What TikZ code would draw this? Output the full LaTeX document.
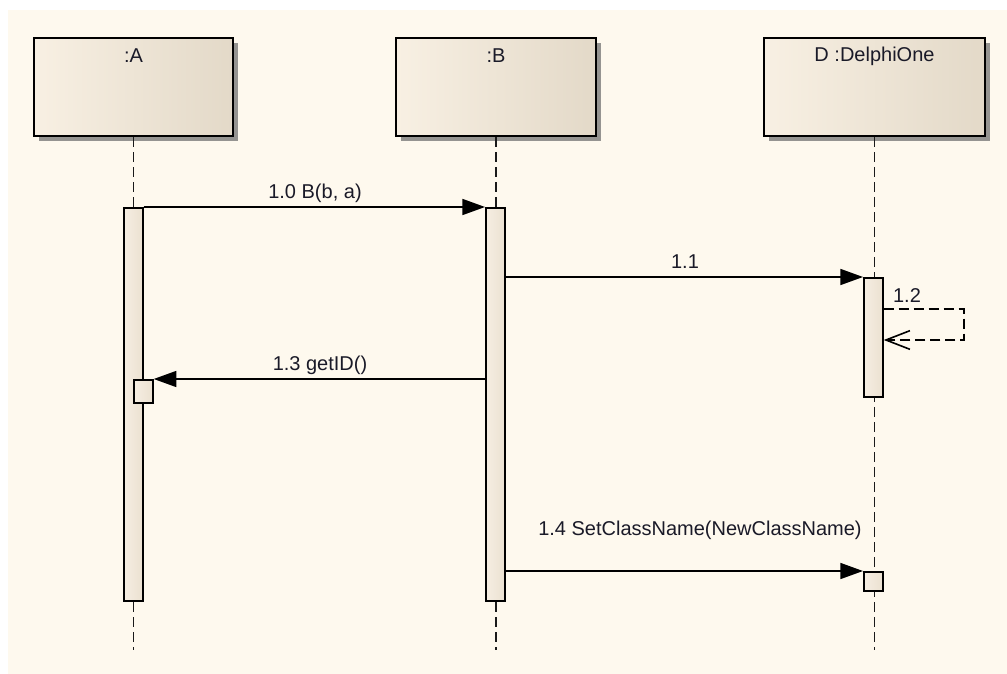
\documentclass[tikz,border=0pt]{standalone}
\usepackage{fontspec}
\setmainfont{Liberation Sans}
\usetikzlibrary{arrows.meta,shadows}
\definecolor{bgc}{HTML}{FEF9EE}
\definecolor{boxL}{HTML}{F8F0E3}
\definecolor{boxR}{HTML}{E3D9C8}
\definecolor{barL}{HTML}{F6EEE2}
\definecolor{barR}{HTML}{EBE1D1}
\definecolor{txt}{HTML}{1A1A28}
\definecolor{lifec}{HTML}{1A1A1A}
\begin{document}
\begin{tikzpicture}[x=0.75pt,y=-0.75pt,
  lbl/.style={font=\fontsize{15pt}{18pt}\selectfont, text=txt, inner sep=0pt},
  obj/.style={draw=black, line width=1.5pt, left color=boxL, right color=boxR, minimum height=73.5pt, anchor=north west, inner sep=0pt,
    drop shadow={shadow xshift=3.5pt, shadow yshift=-3.5pt, fill=black!55, opacity=0.75}},
  bar/.style={draw=black, line width=1.3pt, left color=barL, right color=barR, minimum width=14.25pt, anchor=north west, inner sep=0pt},
  life/.style={draw=lifec, line width=1.2pt, dash pattern=on 7.5pt off 3.75pt},
  msg/.style={draw=black, line width=1.2pt, -{Triangle[length=17pt,width=12pt]}},
  ret/.style={draw=black, line width=1.2pt, dash pattern=on 7.5pt off 3.75pt, -{Straight Barb[length=18pt,width=14pt]}}
]
\useasboundingbox (0,0) rectangle (1007,674);
\fill[white] (0,0) rectangle (1007,674);
\fill[bgc] (8,10) rectangle (1007,674);

% object boxes
\node[obj, minimum width=149.25pt] (A) at (33,37) {};
\node[obj, minimum width=150pt] (B) at (395,37) {};
\node[obj, minimum width=165.75pt] (D) at (763,37) {};
\node[lbl] (labA) at ([yshift=-14.25pt]A.north) {:A};
\node[lbl] (labB) at ([yshift=-14.25pt]B.north) {:B};
\node[lbl] (labD) at ([yshift=-14.25pt]D.north) {D :DelphiOne};

% lifelines
\coordinate (bot) at (0,650);
\draw[life] (A.south) -- (A.south |- bot);
\draw[life] (B.south) -- (B.south |- bot);
\draw[life] (D.south) -- (D.south |- bot);

% activations
\node[bar, minimum height=294.75pt] (aA) at (123,207) {};
\node[bar, minimum height=294.75pt] (aB) at (485,207) {};
\node[bar, minimum height=89.25pt] (aD) at (863,277) {};
\node[bar, minimum height=17.25pt] (sA) at (133,379) {};
\node[bar, minimum height=14.25pt] (sD) at (863,571) {};

% messages
\draw[msg] (aA.north east) -- (aB.north west);
\draw[msg] (aB.east |- aD.north) -- (aD.north west);
\coordinate (r1) at (964,309);
\coordinate (r2) at (964,340);
\draw[ret] (aD.east |- r1) -- (r1) -- (r2) -- (aD.east |- r2);
\draw[msg] (aB.west |- sA.north) -- (sA.north east);
\draw[msg] (aB.east |- sD.north) -- (sD.north west);

% message labels
\node[lbl] (m10) at (315,193) {1.0 B(b, a)};
\node[lbl] (m11) at (685,262) {1.1};
\node[lbl] (m12) at (907,296) {1.2};
\node[lbl] (m13) at (320,365) {1.3 getID()};
\node[lbl] (m14) at (700,530) {1.4 SetClassName(NewClassName)};
\end{tikzpicture}
\end{document}
